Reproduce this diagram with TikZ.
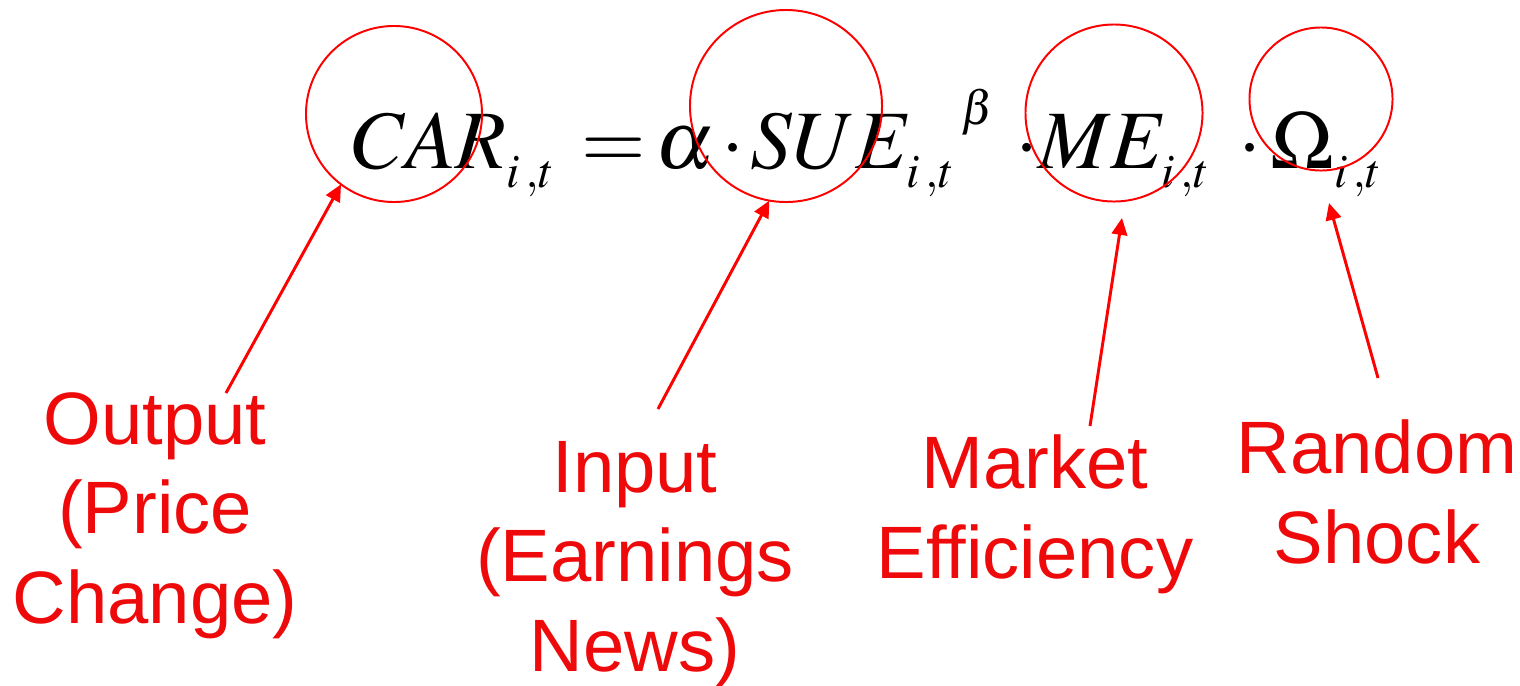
\documentclass[tikz,border=0pt]{standalone}
\usepackage{mathptmx}
\usepackage{fontspec}
\usetikzlibrary{arrows.meta,positioning,calc}
\newfontfamily\labelfont{Liberation Sans}
\definecolor{accent}{HTML}{FF0000}
\definecolor{labelred}{HTML}{EE0A0A}
\DeclareMathSizes{59}{59}{34}{28}
\newcommand{\lowsub}[1]{_{\raisebox{-5pt}{$\scriptstyle #1$}}}

\begin{document}
\begin{tikzpicture}[x=0.025cm,y=-0.025cm,
  eqn/.style={inner sep=0pt,anchor=base west,font=\fontsize{59}{66}\selectfont},
  ring/.style={circle,draw=accent,line width=1.4pt,inner sep=0pt,outer sep=0pt},
  tag/.style={align=center,text=labelred,inner sep=0pt,anchor=base,
    font=\labelfont\fontsize{52.8}{63.3}\selectfont},
  pointer/.style={draw=accent,line width=2.1pt,-{Triangle[length=12pt,width=11pt]}}]
  \useasboundingbox (0,0) rectangle (1520,685);
  % the equation, term by term
  \node[eqn] (car) at (352,168) {$CAR\lowsub{i\,,t}$};
  \node[eqn] (equal) at (581,168) {$=$};
  \node[eqn] (alpha) at (655,168) {$\alpha$};
  \node[eqn] (dot1) at (721,168) {$\cdot$};
  \node[eqn] (sue) at (750,168) {$SUE\lowsub{i\,,t}$};
  \node[eqn] (beta) at (961,124) {$\scriptstyle\beta$};
  \node[eqn] (dot2) at (1015,168) {$\cdot$};
  \node[eqn] (me) at (1038,168) {$ME\lowsub{i\,,t}$};
  \node[eqn] (dot3) at (1238,168) {$\cdot$};
  \node[eqn] (omega) at (1270,168) {$\Omega\lowsub{i\,,t}$};
  % circles round the terms
  \node[ring,minimum size=4.4cm] (ringcar) at (394,114) {};
  \node[ring,minimum size=4.8cm] (ringsue) at (786,106) {};
  \node[ring,minimum size=4.425cm] (ringme) at (1114,113) {};
  \node[ring,minimum size=3.575cm] (ringomega) at (1321,99) {};
  % labels
  \node[tag] (output) at (155,623) {Output\\(Price\\Change)};
  \node[tag] (input) at (635,671) {Input\\(Earnings\\News)};
  \node[tag] (market) at (1035,578) {Market\\Efficiency};
  \node[tag] (shock) at (1377,563) {Random\\Shock};
  % arrows
  \coordinate (outtail) at (226,393);
  \coordinate (intail) at (658,409);
  \coordinate (mktail) at (1090,426);
  \coordinate (shtail) at (1378,378);
  \coordinate (metip) at (1122,218);
  \coordinate (omtip) at (1329,203);
  \draw[pointer] (outtail) -- (ringcar.-127);
  \draw[pointer] (intail) -- (ringsue.-100);
  \draw[pointer] (mktail) -- (metip);
  \draw[pointer] (shtail) -- (omtip);
\end{tikzpicture}
\end{document}
